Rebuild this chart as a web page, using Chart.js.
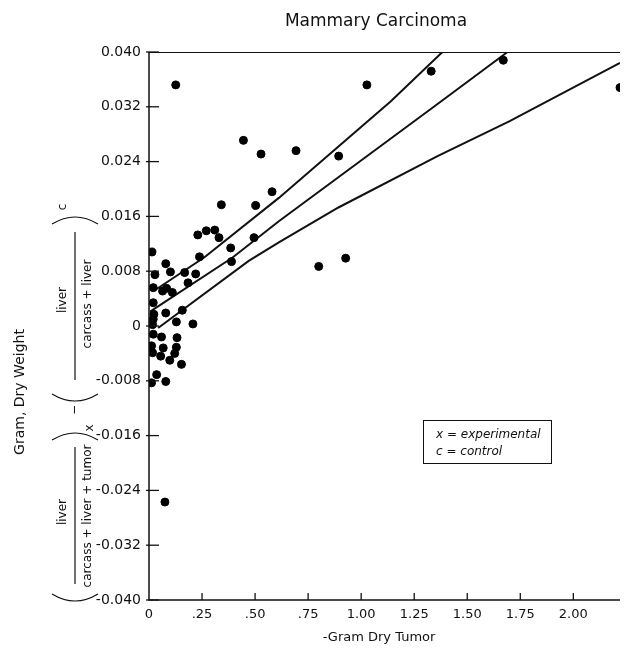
<!DOCTYPE html>
<html>
<head>
<meta charset="utf-8">
<script src="https://cdn.jsdelivr.net/npm/chart.js@4.4.0/dist/chart.umd.min.js"></script>
<style>
  html, body { margin: 0; padding: 0; background: #fff; }
  #wrap { width: 625px; height: 648px; position: relative; }
</style>
</head>
<body>
<div id="wrap"><canvas id="chart" width="625" height="648"></canvas></div>
<script>
// tumor weight (g dry) vs liver fraction difference
const pointX = [
  0.126, 0.445, 0.528, 0.693, 0.894, 1.027, 1.33, 1.67, 2.22, 0.80,
  0.927, 0.58, 0.341, 0.503, 0.23, 0.27, 0.31, 0.33, 0.385, 0.495,
  0.238, 0.389, 0.168, 0.22, 0.184, 0.014, 0.079, 0.028, 0.101, 0.02,
  0.064, 0.083, 0.11, 0.02, 0.157, 0.02, 0.023, 0.079, 0.017, 0.129,
  0.207, 0.02, 0.059, 0.132, 0.012, 0.067, 0.129, 0.017, 0.055, 0.098,
  0.121, 0.153, 0.036, 0.012, 0.079, 0.075,
];
const pointY = [
  0.0352, 0.0271, 0.0251, 0.0256, 0.0248, 0.0352, 0.0372, 0.0388, 0.0348, 0.0087,
  0.0099, 0.0196, 0.0177, 0.0176, 0.0133, 0.0139, 0.0140, 0.0129, 0.0114, 0.0129,
  0.0101, 0.0094, 0.0078, 0.0076, 0.0063, 0.0108, 0.0091, 0.0075, 0.0079, 0.0056,
  0.0051, 0.0055, 0.0049, 0.0034, 0.0023, 0.0010, 0.0017, 0.0019, 0.0002, 0.0006,
  0.0003, -0.0012, -0.0016, -0.0017, -0.0029, -0.0032, -0.0031, -0.0039, -0.0044, -0.0050,
  -0.0040, -0.0056, -0.0071, -0.0083, -0.0081, -0.0257,
];

// regression line and its two bands
const upperX = [0.036, 0.26, 0.612, 1.14, 1.383];
const upperY = [0.0054, 0.0100, 0.0187, 0.0328, 0.040];
const middleX = [0.005, 0.394, 0.612, 1.36, 1.69];
const middleY = [0.0021, 0.0100, 0.0153, 0.0324, 0.040];
const lowerX = [0.043, 0.47, 0.612, 0.893, 1.36, 1.70, 2.22];
const lowerY = [-0.0003, 0.0095, 0.0122, 0.0173, 0.0248, 0.0299, 0.0384];

const xTicks = [0, 0.25, 0.5, 0.75, 1.0, 1.25, 1.5, 1.75, 2.0];
const yTicks = [-5, -4, -3, -2, -1, 0, 1, 2, 3, 4, 5].map((k) => k * 0.008);

const titleText = "Mammary Carcinoma";
const xTitleText = "-Gram Dry Tumor";
const yTitleText = "Gram, Dry Weight";
const legendLines = ["x = experimental", "c = control"];

const FONT = "'DejaVu Sans', sans-serif";

function toXY(xs, ys) {
  return xs.map((x, i) => ({ x: x, y: ys[i] }));
}

function formatX(v) {
  if (v === 0) return "0";
  const s = v.toFixed(2);
  return v < 1 ? s.slice(1) : s;
}

function formatY(v) {
  if (Math.abs(v) < 1e-9) return "0";
  return v.toFixed(3);
}

function rotText(ctx, str, x, y, font) {
  ctx.save();
  ctx.translate(x, y);
  ctx.rotate(-Math.PI / 2);
  ctx.font = font;
  ctx.textAlign = "center";
  ctx.textBaseline = "middle";
  ctx.fillText(str, 0, 0);
  ctx.restore();
}

// parenthesis drawn sideways: opening one bulges down, closing one bulges up
function paren(ctx, y, x1, x2, open) {
  const bulge = open ? 7 : -7;
  ctx.beginPath();
  ctx.moveTo(x1, y);
  ctx.quadraticCurveTo((x1 + x2) / 2, y + bulge * 2, x2, y);
  ctx.stroke();
}

const framePlugin = {
  id: "frame",
  afterDraw(chart) {
    const ctx = chart.ctx;
    const area = chart.chartArea;
    const xs = chart.scales.x;
    const ys = chart.scales.y;
    ctx.save();
    ctx.strokeStyle = "#111";
    ctx.fillStyle = "#111";
    ctx.lineWidth = 1.5;

    ctx.beginPath();
    ctx.moveTo(area.left, area.top);
    ctx.lineTo(area.left, area.bottom);
    ctx.lineTo(area.right, area.bottom);
    ctx.stroke();
    ctx.lineWidth = 1;
    ctx.beginPath();
    ctx.moveTo(area.left, area.top + 0.5);
    ctx.lineTo(area.right, area.top + 0.5);
    ctx.stroke();

    ctx.lineWidth = 1.3;
    for (const v of yTicks) {
      const py = ys.getPixelForValue(v);
      ctx.beginPath();
      ctx.moveTo(area.left - 3, py);
      ctx.lineTo(area.left + 10, py);
      ctx.stroke();
    }
    for (const v of xTicks) {
      if (v === 0) continue;
      const px = xs.getPixelForValue(v);
      ctx.beginPath();
      ctx.moveTo(px, area.bottom);
      ctx.lineTo(px, area.bottom - 7);
      ctx.stroke();
    }

    // titles
    ctx.textAlign = "center";
    ctx.textBaseline = "middle";
    ctx.font = "17px " + FONT;
    ctx.fillText(titleText, 376, 22);
    ctx.font = "13px " + FONT;
    ctx.fillText(xTitleText, 379, 638);

    // legend box
    ctx.lineWidth = 1;
    ctx.strokeRect(423.5, 420.5, 128, 43);
    ctx.textAlign = "left";
    ctx.font = "italic 12px " + FONT;
    ctx.fillText(legendLines[0], 436, 435);
    ctx.fillText(legendLines[1], 436, 452);

    // y title and formula
    rotText(ctx, yTitleText, 20, 392, "14px " + FONT);
    const f = "12px " + FONT;
    ctx.lineWidth = 1.2;
    paren(ctx, 594, 52, 98, true);
    rotText(ctx, "liver", 63, 512, f);
    ctx.beginPath();
    ctx.moveTo(75, 447);
    ctx.lineTo(75, 584);
    ctx.stroke();
    rotText(ctx, "carcass + liver + tumor", 88, 516, f);
    paren(ctx, 440, 52, 98, false);
    rotText(ctx, "x", 90, 428, f);
    rotText(ctx, "\u2212", 75, 410, f);
    paren(ctx, 394, 52, 98, true);
    rotText(ctx, "liver", 63, 300, f);
    ctx.beginPath();
    ctx.moveTo(75, 232);
    ctx.lineTo(75, 380);
    ctx.stroke();
    rotText(ctx, "carcass + liver", 88, 304, f);
    paren(ctx, 224, 52, 98, false);
    rotText(ctx, "c", 63, 207, f);
    ctx.restore();
  },
};

const lineStyle = {
  type: "line",
  borderColor: "#111",
  borderWidth: 2,
  pointRadius: 0,
  fill: false,
  tension: 0,
};

new Chart(document.getElementById("chart"), {
  type: "scatter",
  data: {
    datasets: [
      {
        label: "points",
        data: toXY(pointX, pointY),
        backgroundColor: "#000",
        borderColor: "#000",
        pointRadius: 4,
        pointHoverRadius: 4,
      },
      Object.assign({ label: "upper", data: toXY(upperX, upperY) }, lineStyle),
      Object.assign({ label: "middle", data: toXY(middleX, middleY) }, lineStyle),
      Object.assign({ label: "lower", data: toXY(lowerX, lowerY) }, lineStyle),
    ],
  },
  options: {
    responsive: false,
    animation: false,
    events: [],
    layout: { padding: { top: 52, right: 0, left: 0, bottom: 0 } },
    plugins: { legend: { display: false }, tooltip: { enabled: false } },
    scales: {
      x: {
        type: "linear",
        min: 0,
        max: 2.22,
        grid: { display: false, drawTicks: false },
        border: { display: false },
        afterBuildTicks: (scale) => {
          scale.ticks = xTicks.map((v) => ({ value: v }));
        },
        afterFit: (scale) => {
          scale.height = 48;
        },
        ticks: {
          callback: (v) => formatX(v),
          font: { family: FONT, size: 13 },
          color: "#111",
          padding: 7,
          maxRotation: 0,
          autoSkip: false,
        },
      },
      y: {
        type: "linear",
        min: -0.04,
        max: 0.04,
        grid: { display: false, drawTicks: false },
        border: { display: false },
        afterBuildTicks: (scale) => {
          scale.ticks = yTicks.map((v) => ({ value: v }));
        },
        afterFit: (scale) => {
          scale.width = 149;
        },
        ticks: {
          callback: (v) => formatY(v),
          font: { family: FONT, size: 14 },
          color: "#111",
          padding: 8,
          autoSkip: false,
        },
      },
    },
  },
  plugins: [framePlugin],
});
</script>
</body>
</html>
